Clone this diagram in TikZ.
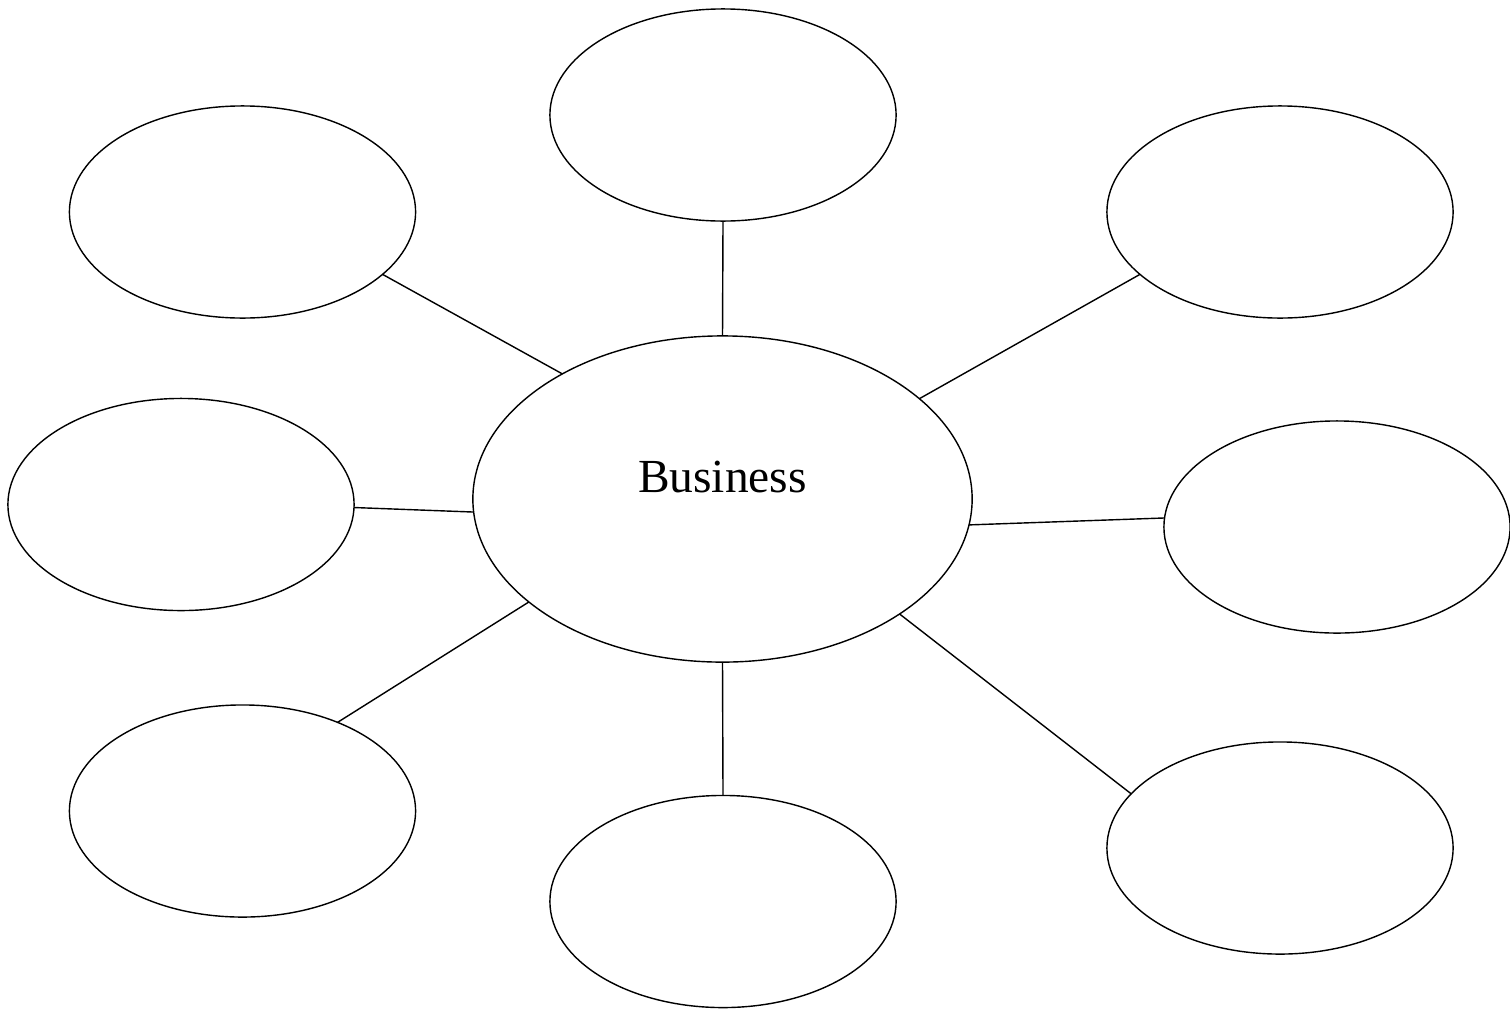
\documentclass[tikz,border=0pt]{standalone}
\usepackage{fontspec}
\setmainfont{Liberation Serif}
\usetikzlibrary{shapes.geometric}

\begin{document}
\begin{tikzpicture}[x=0.01cm, y=-0.01cm,
    bubble/.style={ellipse, draw, outer sep=0pt, minimum width=3.46cm, minimum height=2.12cm}]
    \useasboundingbox (0,0) rectangle (1510,1009);
    \node [ellipse, draw, outer sep=0pt, minimum width=4.99cm, minimum height=3.26cm](hub) at (722.5,499){};
    \node [font=\fontsize{13.5}{16}\selectfont](biz) at (722.5,477){Business};
    \node [bubble](top) at (723,115){};
    \node [bubble](topleft) at (242.5,212){};
    \node [bubble](topright) at (1280,212){};
    \node [bubble](left) at (181,504.5){};
    \node [bubble](right) at (1337,527){};
    \node [bubble](botleft) at (242.5,811){};
    \node [bubble](bot) at (723,901.5){};
    \node [bubble](botright) at (1280,848){};
    \draw
    (top.south) -- (hub.north)
    (bot.north) -- (hub.south)
    (topleft.-24) -- (hub.142)
    (topright.-156) -- (hub.27)
    (left.-1.5) -- (hub.183.7)
    (right.177) -- (hub.-6.2)
    (botleft.43.6) -- (hub.208.3)
    (botright.160) -- (hub.-33);
\end{tikzpicture}
\end{document}
